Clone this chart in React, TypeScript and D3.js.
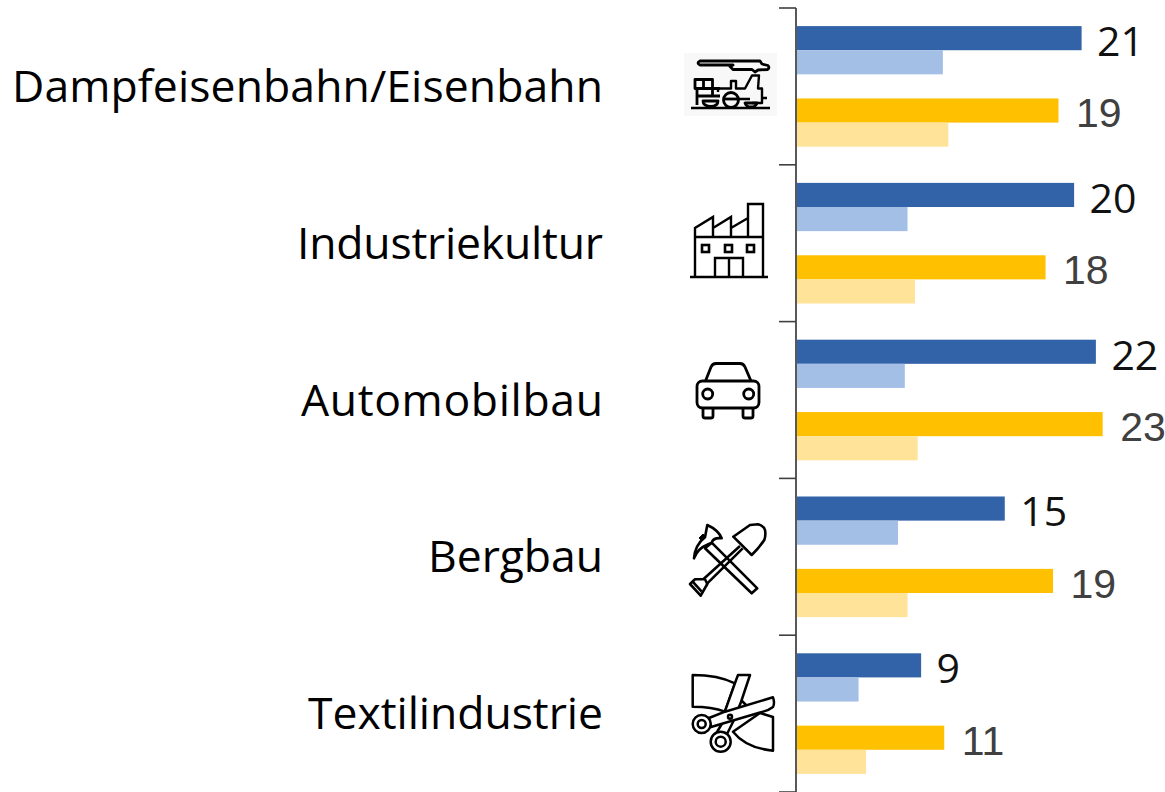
import React from "react";
import * as d3 from "d3";

const categories = ["Dampfeisenbahn/Eisenbahn", "Industriekultur", "Automobilbau", "Bergbau", "Textilindustrie"];
const seriesKeys = ["blue", "lightBlue", "gap", "yellow", "lightYellow"];
const blueValues = [21, 20.45, 22.05, 15.35, 9.2];
const lightBlueValues = [10.8, 8.2, 8, 7.5, 4.6];
const yellowValues = [19.3, 18.35, 22.55, 18.9, 10.9];
const lightYellowValues = [11.2, 8.75, 8.95, 8.2, 5.15];
const blueLabels = ["21", "20", "22", "15", "9"];
const yellowLabels = ["19", "18", "23", "19", "11"];
const labelWidths = [591, 306, 302, 175, 295];

const colors: Record<string, string> = { blue: "#3263a8", lightBlue: "#a3bfe6", yellow: "#ffc000", lightYellow: "#ffe398" };

const x = d3.scaleLinear().domain([0, 23]).range([796, 1108.8]);
const y = d3.scaleBand<string>().domain(categories).range([8, 792]);
const inner = d3.scaleBand<string>().domain(seriesKeys).range([0, y.bandwidth()]).paddingOuter(0.75);

const Train = () => (
  <g fill="none" stroke="#000" strokeWidth={2.8} strokeLinejoin="round">
    <rect x={684} y={53} width={93} height={63} fill="#f8f8f8" stroke="none" />
    <path d="M700 61H760L762 64L768 65.500Q770 68 767.500 69.500L758 70L755 72L752 69.500H733L730 66.500L733 65H700Q696 63 700 61Z" />
    <path d="M691 108H770" strokeWidth={2.4} />
    <path d="M695 79.500H712.500V88.500H695ZM703.500 79.500V88.500M697 88.500V105M697 88.500H720M712.500 88.500V96M697 96H720" />
    <path d="M718 92V87M720 88.500H731V81H736V88.500H745L752 75.500H759L758 88.500H762V98H767M762 98V103H752M736 99H750" strokeWidth={2.4} />
    <path d="M703 101H718Q718 106 711 106.500Q703 106 703 101Z" />
    <circle cx={731} cy={100} r={7.500} />
    <path d="M723 99H739" />
    <path d="M745 103H757Q756 107 751 107Q746 107 745 103Z" />
  </g>
);

const Factory = () => (
  <g fill="none" stroke="#000" strokeWidth={2.4} strokeLinejoin="miter">
    <path d="M690 277H768" />
    <path d="M695 277V228L713 217V237M713 228L731 217V237M731 228L748 218V237M748 237V204H763V277M695 237H763" />
    <rect x={702} y={245} width={7} height={7} strokeWidth={2.6} />
    <rect x={725} y={245} width={7} height={7} strokeWidth={2.6} />
    <rect x={747} y={245} width={7} height={7} strokeWidth={2.6} />
    <path d="M715 277V258H743V277M729 258V277" />
  </g>
);

const Car = () => (
  <g fill="none" stroke="#000" strokeWidth={2.8} strokeLinejoin="round">
    <rect x={697} y={381} width={62} height={27} rx={5.5} />
    <path d="M705.500 381L711 367Q712.500 363.500 716 363.500H740Q743.500 363.500 745 367L751 381" />
    <circle cx={707.7} cy={394} r={5} />
    <circle cx={748.7} cy={394} r={5} />
    <path d="M703 408V416Q703 418 705 418H711Q713 418 713 416V408M743 408V416Q743 418 745 418H751Q753 418 753 416V408" />
  </g>
);

const Tools = () => (
  <g fill="#fff" stroke="#000" strokeWidth={2.6} strokeLinejoin="round">
    <path d="M705 548.300L751.700 593.300L757.300 588.300L711.700 542.700Z" />
    <path d="M694 558.300Q695 545 705 537.300L707.300 525Q718.300 530 721.700 538.300Q713.300 537.300 711.700 542.700L706.700 545Q698 548.300 694 558.300Z" />
    <path d="M699 538L703 534L706 537L702 541Z" fill="#000" strokeWidth={1} />
    <path d="M733.300 536.700L750 525L758 524.300Q764 526 765 530Q766 535 764.300 540Q759 548 751.700 555Z" />
    <path d="M740 546L703.300 579.300M742.700 548.300L707.300 583.300" fill="none" />
    <path d="M690 584L700.700 595.700L707.300 584L705 579.300L695 579.300Z" />
    <path d="M692.700 581.700L701.700 591.700" fill="none" />
  </g>
);

const Scissors = () => (
  <g fill="#fff" stroke="#000" strokeWidth={2.5} strokeLinejoin="round">
    <path d="M692.700 675Q718 675 735 683.300L725 711.700Q712 706.700 692.700 706.700Z" />
    <path d="M760 713L773 717V750.700Q746 748 733 731.700Z" />
    <path d="M741 700L748 707" fill="none" />
    <path d="M735 683L738 675H750L741 702L733 722L727 734L717 732L723 722L727 716L725 711Z" />
    <path d="M773 697.300Q775 703 773 707Q768 711 760 712.500L711 727L709 718L725 711.700Z" />
    <circle cx={701.7} cy={724} r={9} />
    <circle cx={701.7} cy={724} r={4} />
    <circle cx={720.7} cy={741.700} r={10} />
    <circle cx={720.7} cy={741.700} r={5} />
    <circle cx={730} cy={716.700} r={2} />
  </g>
);

const icons = [Train, Factory, Car, Tools, Scissors];

export default function App() {
  const rows = [
    { key: "blue", values: blueValues },
    { key: "lightBlue", values: lightBlueValues },
    { key: "yellow", values: yellowValues },
    { key: "lightYellow", values: lightYellowValues },
  ];
  const ticks = [...categories.map((c) => y(c)!), 792];
  const labelFont = "'Open Sans', 'Noto Sans', sans-serif";
  return (
    <svg width={1165} height={792} style={{ position: "fixed", left: 0, top: 0, background: "#fff" }}>
      {categories.map((c, i) => {
        const Icon = icons[i];
        const top = y(c)!;
        return (
          <g key={c}>
            <text x={603} y={top + 94} textAnchor="end" fontFamily={labelFont} fontSize={44.5} textLength={labelWidths[i]} lengthAdjust="spacing" fill="#000">{c}</text>
            <Icon />
            {rows.map((r) => (
              <rect key={r.key} x={x(0)} y={top + inner(r.key)!} width={x(r.values[i]) - x(0)} height={inner.bandwidth()} fill={colors[r.key]} />
            ))}
            <text x={x(blueValues[i]) + 15.5} y={top + inner("blue")! + 30} fontFamily={labelFont} fontSize={41} fill="#111">{blueLabels[i]}</text>
            <text x={x(yellowValues[i]) + 17.5} y={top + inner("yellow")! + 29} fontFamily="'Liberation Sans', Arial, sans-serif" fontSize={41} fill="#404040">{yellowLabels[i]}</text>
          </g>
        );
      })}
      <path d="M796 8V792" stroke="#595959" strokeWidth={2} fill="none" />
      {ticks.map((t) => (
        <path key={t} d={`M779 ${t}H796`} stroke="#404040" strokeWidth={1.6} fill="none" />
      ))}
    </svg>
  );
}
